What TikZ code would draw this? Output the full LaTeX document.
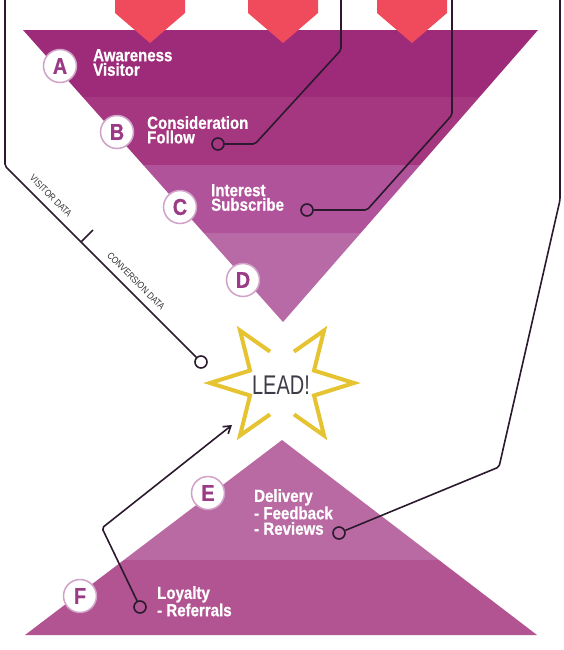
\documentclass[tikz,border=0pt]{standalone}
\usepackage{fontspec}
\setmainfont{Liberation Sans}
\newfontfamily\lblfont{Liberation Sans Bold}[FakeStretch=0.86, FakeBold=0.7]
\newfontfamily\leadfont{Liberation Sans}[FakeStretch=0.74]
\newfontfamily\sidefont{Liberation Sans}[FakeStretch=0.85]
\usetikzlibrary{arrows.meta}
\definecolor{bandA}{HTML}{9E2B7A}
\definecolor{bandB}{HTML}{A4377F}
\definecolor{bandC}{HTML}{B1539A}
\definecolor{bandD}{HTML}{B86AA6}
\definecolor{bandE}{HTML}{B96AA3}
\definecolor{bandF}{HTML}{B25491}
\definecolor{arrowred}{HTML}{EF4B5C}
\definecolor{linecol}{HTML}{2B1A2E}
\definecolor{starcol}{HTML}{E6C330}
\definecolor{leadcol}{HTML}{3C3C48}
\definecolor{lettcol}{HTML}{9B3A85}
\definecolor{lettborder}{HTML}{D0A2C8}
\definecolor{sidecol}{HTML}{333333}
\tikzset{
  conn/.style={draw=linecol, line width=1.6pt, rounded corners=2pt},
  endc/.style={circle, draw=linecol, line width=1.6pt, minimum size=12pt, inner sep=0pt},
  lettc/.style={circle, fill=white, draw=lettborder, line width=1.5pt, minimum size=33pt, inner sep=0pt,
    text=lettcol, font=\lblfont\fontsize{23}{23}\selectfont},
  lbl/.style={anchor=north west, inner sep=0pt, align=left, text=white,
    font=\lblfont\fontsize{17.5}{14.5}\selectfont},
  lblb/.style={lbl, font=\lblfont\fontsize{17.5}{15.5}\selectfont},
  sidelbl/.style={inner sep=0pt, text=sidecol, font=\sidefont\fontsize{9.5}{9.5}\selectfont, rotate=-45},
  starline/.style={draw=starcol, line width=4pt, line join=miter},
  leadtxt/.style={inner sep=0pt, text=leadcol, font=\leadfont\fontsize{27}{27}\selectfont}
}
\begin{document}
\begin{tikzpicture}[x=1pt,y=-1pt]
\useasboundingbox (0,0) rectangle (564,650);
\fill[white] (0,0) rectangle (564,650);

% top funnel
\begin{scope}
\clip (23,30) -- (538,30) -- (283,322) -- cycle;
\fill[bandA] (0,30) rectangle (564,97);
\fill[bandB] (0,97) rectangle (564,165);
\fill[bandC] (0,165) rectangle (564,233);
\fill[bandD] (0,233) rectangle (564,330);
\end{scope}

% bottom triangle
\begin{scope}
\clip (282,440) -- (537,635) -- (25,635) -- cycle;
\fill[bandE] (0,430) rectangle (564,560);
\fill[bandF] (0,560) rectangle (564,640);
\end{scope}

% red arrows
\foreach \x in {150,283,412}
  \fill[arrowred] (\x-35,-1) -- (\x+35,-1) -- (\x+35,13) -- (\x,43) -- (\x-35,13) -- cycle;

% star
\begin{scope}[shift={(282,383)}]
\draw[starline] (-12,-31.4) -- (-42,-52.5) -- (-32,-12.5) -- (-72,0) -- (-32,12.5) -- (-42,52.5) -- (-12,31.4);
\draw[starline] (12,-31.4) -- (42,-52.5) -- (32,-12.5) -- (72,0) -- (32,12.5) -- (42,52.5) -- (12,31.4);
\end{scope}
\node[leadtxt] (lead) at (281,385) {LEAD!};

% letter circles
\node[lettc] (A) at (60,66) {A};
\node[lettc] (B) at (117,132) {B};
\node[lettc] (C) at (180,207) {C};
\node[lettc] (D) at (243,280) {D};
\node[lettc] (E) at (208,493) {E};
\node[lettc] (F) at (80,596) {F};

% labels
\node[lbl] (ta) at (93,49) {Awareness\\Visitor};
\node[lbl] (tb) at (147,116) {Consideration\\Follow};
\node[lbl] (tc) at (211,184) {Interest\\Subscribe};
\node[lblb] (te) at (254,489) {Delivery\\- Feedback\\- Reviews};
\node[lbl, font=\lblfont\fontsize{17.5}{15}\selectfont] (tf) at (157,586) {Loyalty\\- Referrals};

% connector ends
\coordinate (t1) at (5,-2);
\coordinate (t2) at (341,-2);
\coordinate (t3) at (452,-2);
\coordinate (t4) at (560,-2);
\node[endc] (e1) at (201,362) {};
\node[endc] (e2) at (218,144) {};
\node[endc] (e3) at (307,210) {};
\node[endc] (e4) at (339,533) {};
\node[endc] (e5) at (140,607) {};
\coordinate (tip) at (232,425);

% connectors
\draw[conn] (t1) -- (5,166) -- (e1);
\draw[conn] (81,242) -- (93,230);
\draw[conn] (t2) -- (341,50) -- (255,144) -- (e2);
\draw[conn] (t3) -- (452,115) -- (367,210) -- (e3);
\draw[conn] (t4) -- (560,200) -- (499,467) -- (e4);
\draw[conn, -{Straight Barb[length=7pt,width=9pt]}] (e5) -- (102,528) -- (tip);

% side labels
\node[sidelbl] (vd) at (51,196) {VISITOR DATA};
\node[sidelbl] (cd) at (136,281) {CONVERSION DATA};
\end{tikzpicture}
\end{document}
